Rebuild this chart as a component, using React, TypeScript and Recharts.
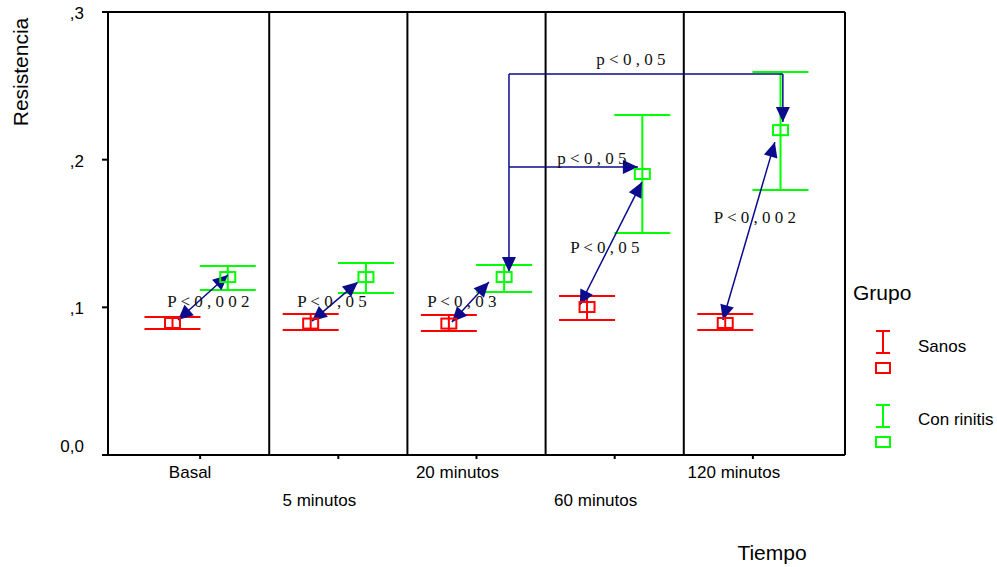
import React from "react";
import {
  ScatterChart,
  Scatter,
  XAxis,
  YAxis,
  ErrorBar,
  ReferenceLine,
  ReferenceDot,
  Legend
} from "recharts";

// tiempos y valores
const categories = ["Basal", "5 minutos", "20 minutos", "60 minutos", "120 minutos"];
const sanosMean = [0.0894, 0.089, 0.089, 0.1002, 0.0894];
const sanosLow = [0.0853, 0.0846, 0.084, 0.0914, 0.0846];
const sanosHigh = [0.0934, 0.0955, 0.0948, 0.1077, 0.0955];
const rinitisMean = [0.1205, 0.1205, 0.1205, 0.1903, 0.22];
const rinitisLow = [0.1117, 0.1097, 0.1104, 0.1503, 0.1794];
const rinitisHigh = [0.128, 0.13, 0.1286, 0.2302, 0.2593];
const yTicks = [0, 0.1, 0.2, 0.3];

// flechas de significacion (coordenadas de datos)
type Arrow = { from: [number, number]; to: [number, number]; heads: "both" | "end" | "none" };
const arrows: Arrow[] = [
  { from: [-0.16, 0.0914], to: [0.201, 0.1219], heads: "both" },
  { from: [0.809, 0.0907], to: [1.142, 0.1171], heads: "both" },
  { from: [1.822, 0.09], to: [2.09, 0.1171], heads: "both" },
  { from: [2.748, 0.1016], to: [3.197, 0.1848], heads: "both" },
  { from: [3.783, 0.0914], to: [4.159, 0.2119], heads: "both" },
  { from: [2.235, 0.258], to: [2.235, 0.1239], heads: "end" },
  { from: [2.235, 0.258], to: [4.217, 0.258], heads: "none" },
  { from: [4.217, 0.258], to: [4.217, 0.2255], heads: "end" },
  { from: [2.235, 0.195], to: [3.168, 0.195], heads: "end" }
];
const pLabels = [
  { x: 0.06, y: 0.1002, text: "P < 0 , 0 0 2" },
  { x: 0.954, y: 0.1002, text: "P < 0 , 0 5" },
  { x: 1.894, y: 0.1002, text: "P < 0 , 0 3" },
  { x: 2.929, y: 0.1368, text: "P < 0 , 0 5" },
  { x: 4.015, y: 0.1571, text: "P < 0 , 0 0 2" },
  { x: 3.117, y: 0.264, text: "p < 0 , 0 5" },
  { x: 2.835, y: 0.1971, text: "p < 0 , 0 5" }
];

const RED = "#FF0000";
const GREEN = "#00FF00";
const BLUE = "#0B0B8C";
const SANS = "Arial, 'Liberation Sans', sans-serif";
const SERIF = "'Times New Roman', 'Liberation Serif', serif";
const offset = 0.2;

const sanosData = categories.map((c, i) => ({
  x: i - offset,
  y: sanosMean[i],
  err: [sanosMean[i] - sanosLow[i], sanosHigh[i] - sanosMean[i]]
}));
const rinitisData = categories.map((c, i) => ({
  x: i + offset,
  y: rinitisMean[i],
  err: [rinitisMean[i] - rinitisLow[i], rinitisHigh[i] - rinitisMean[i]]
}));

const boxShape = (color: string) => (props: any) => (
  <rect
    x={props.cx - 7.5}
    y={props.cy - 5}
    width={15}
    height={10}
    fill="none"
    stroke={color}
    strokeWidth={2}
  />
);

const head = (tx: number, ty: number, fx: number, fy: number) => {
  const len = Math.hypot(tx - fx, ty - fy) || 1;
  const ux = (tx - fx) / len;
  const uy = (ty - fy) / len;
  const bx = tx - ux * 15;
  const by = ty - uy * 15;
  const pts = [
    [tx, ty],
    [bx - uy * 7, by + ux * 7],
    [bx + uy * 7, by - ux * 7]
  ];
  return <polygon points={pts.map((p) => p.join(",")).join(" ")} fill={BLUE} />;
};

const arrowShape = (heads: string) => (props: any) => {
  const { x1, y1, x2, y2 } = props;
  return (
    <g>
      <line x1={x1} y1={y1} x2={x2} y2={y2} stroke={BLUE} strokeWidth={1.5} />
      {heads !== "none" && head(x2, y2, x1, y1)}
      {heads === "both" && head(x1, y1, x2, y2)}
    </g>
  );
};

const XTick = (props: any) => {
  const { x, y, payload } = props;
  const i = Math.round(payload.value);
  return (
    <text
      x={x + (i === 0 ? -10 : -19)}
      y={y + (i % 2 === 0 ? 17 : 45)}
      textAnchor="middle"
      fontFamily={SANS}
      fontSize={17}
      fill="#000"
    >
      {categories[i]}
    </text>
  );
};

const YTick = (props: any) => {
  const { x, y, payload } = props;
  const v = payload.value;
  const label = v === 0 ? "0,0" : "," + Math.round(v * 10);
  return (
    <text
      x={x - 16}
      y={y + (v === 0 ? -3 : 7)}
      textAnchor="end"
      fontFamily={SANS}
      fontSize={17}
      fill="#000"
    >
      {label}
    </text>
  );
};

const LegendBox = () => (
  <svg width={152} height={190}>
    <text x={8} y={30} fontFamily={SANS} fontSize={21} fill="#000">
      Grupo
    </text>
    <g stroke={RED} strokeWidth={2} fill="none">
      <line x1={31} y1={61} x2={45} y2={61} />
      <line x1={38} y1={61} x2={38} y2={83} />
      <line x1={31} y1={83} x2={45} y2={83} />
      <rect x={31} y={93} width={14} height={10} />
    </g>
    <text x={73} y={82} fontFamily={SANS} fontSize={17} fill="#000">
      Sanos
    </text>
    <g stroke={GREEN} strokeWidth={2} fill="none">
      <line x1={31} y1={135} x2={45} y2={135} />
      <line x1={38} y1={135} x2={38} y2={157} />
      <line x1={31} y1={157} x2={45} y2={157} />
      <rect x={31} y={167} width={14} height={10} />
    </g>
    <text x={73} y={155} fontFamily={SANS} fontSize={17} fill="#000">
      Con rinitis
    </text>
  </svg>
);

export default function App() {
  return (
    <div style={{ position: "absolute", left: 0, top: 0, background: "#fff" }}>
      <ScatterChart
        width={997}
        height={567}
        margin={{ top: 12, right: 152, bottom: 52, left: 48 }}
      >
        <XAxis
          type="number"
          dataKey="x"
          domain={[-2 / 3, 14 / 3]}
          ticks={[0, 1, 2, 3, 4]}
          height={60}
          tick={<XTick />}
          tickSize={4}
          axisLine={{ stroke: "#000", strokeWidth: 2 }}
          tickLine={{ stroke: "#000", strokeWidth: 2 }}
          label={() => (
            <text x={772} y={560} textAnchor="middle" fontFamily={SANS} fontSize={21} fill="#000">
              Tiempo
            </text>
          )}
        />
        <YAxis
          type="number"
          dataKey="y"
          domain={[0, 0.3]}
          ticks={yTicks}
          width={60}
          tick={<YTick />}
          tickSize={6}
          axisLine={{ stroke: "#000", strokeWidth: 2 }}
          tickLine={{ stroke: "#000", strokeWidth: 2 }}
          label={() => (
            <text
              transform="translate(28,72) rotate(-90)"
              textAnchor="middle"
              fontFamily={SANS}
              fontSize={21}
              fill="#000"
            >
              Resistencia
            </text>
          )}
        />
        {[0.5, 1.5, 2.5, 3.5, 14 / 3].map((v) => (
          <ReferenceLine key={v} x={v} stroke="#000" strokeWidth={2} ifOverflow="visible" />
        ))}
        <ReferenceLine y={0.3} stroke="#000" strokeWidth={2} ifOverflow="visible" />
        <Scatter
          name="Sanos"
          data={sanosData}
          shape={boxShape(RED)}
          isAnimationActive={false}
        >
          <ErrorBar dataKey="err" direction="y" width={28} stroke={RED} strokeWidth={2} isAnimationActive={false} />
        </Scatter>
        <Scatter
          name="Con rinitis"
          data={rinitisData}
          shape={boxShape(GREEN)}
          isAnimationActive={false}
        >
          <ErrorBar dataKey="err" direction="y" width={28} stroke={GREEN} strokeWidth={2} isAnimationActive={false} />
        </Scatter>
        {arrows.map((a, i) => (
          <ReferenceLine
            key={"a" + i}
            segment={[
              { x: a.from[0], y: a.from[1] },
              { x: a.to[0], y: a.to[1] }
            ]}
            ifOverflow="visible"
            shape={arrowShape(a.heads)}
          />
        ))}
        {pLabels.map((p, i) => (
          <ReferenceDot
            key={"p" + i}
            x={p.x}
            y={p.y}
            r={0}
            ifOverflow="visible"
            shape={(props: any) => (
              <text
                x={props.cx}
                y={props.cy}
                textAnchor="middle"
                fontFamily={SERIF}
                fontSize={17}
                fill="#111"
              >
                {p.text}
              </text>
            )}
          />
        ))}
        <Legend
          layout="horizontal"
          verticalAlign="middle"
          align="center"
          content={() => <LegendBox />}
          wrapperStyle={{ left: 845, top: 270, width: 152, height: 190 }}
        />
      </ScatterChart>
    </div>
  );
}
